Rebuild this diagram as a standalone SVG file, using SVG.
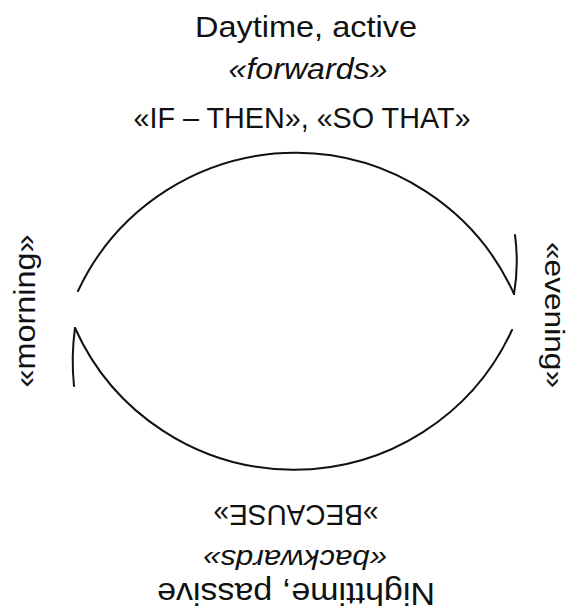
<svg xmlns="http://www.w3.org/2000/svg" width="569" height="614" viewBox="0 0 569 614">
<style>
.t{font-family:"Liberation Sans",Arial,sans-serif;fill:#111;text-anchor:middle}
.i{font-style:italic}
.c{fill:none;stroke:#111;stroke-width:2;stroke-linecap:round}
</style>
<rect width="569" height="614" fill="#fff"/>
<g id="day">
<text class="t" x="306" y="37" font-size="30" textLength="222" lengthAdjust="spacingAndGlyphs">Daytime, active</text>
<text class="t i" x="308" y="79" font-size="30" textLength="159" lengthAdjust="spacingAndGlyphs">«forwards»</text>
<text class="t" x="302" y="128" font-size="29" textLength="337" lengthAdjust="spacingAndGlyphs">«IF – THEN», «SO THAT»</text>
</g>
<g id="night" transform="rotate(180 296 545)">
<text class="t" x="296" y="585" font-size="30" textLength="165" lengthAdjust="spacingAndGlyphs">»BECAUSE»</text>
<text class="t i" x="297" y="540" font-size="27" textLength="184" lengthAdjust="spacingAndGlyphs">«backwards»</text>
<text class="t" x="296" y="507" font-size="32" textLength="278" lengthAdjust="spacingAndGlyphs">Nighttime, passive</text>
</g>
<g id="morning">
<text class="t" transform="rotate(-90 35 311)" x="35" y="311" font-size="29" textLength="153" lengthAdjust="spacingAndGlyphs">«morning»</text>
</g>
<g id="evening">
<text class="t" transform="rotate(90 545 315)" x="545" y="315" font-size="28" textLength="146" lengthAdjust="spacingAndGlyphs">«evening»</text>
</g>
<g id="connectors">
<path class="c" d="M78,291 A240,240 0 0 1 514,294"/>
<path class="c" d="M514,294 Q519,265 515,235"/>
<path class="c" d="M75,328 A240,240 0 0 0 512,330"/>
<path class="c" d="M75,328 Q71,357 74,386"/>
</g>
</svg>
